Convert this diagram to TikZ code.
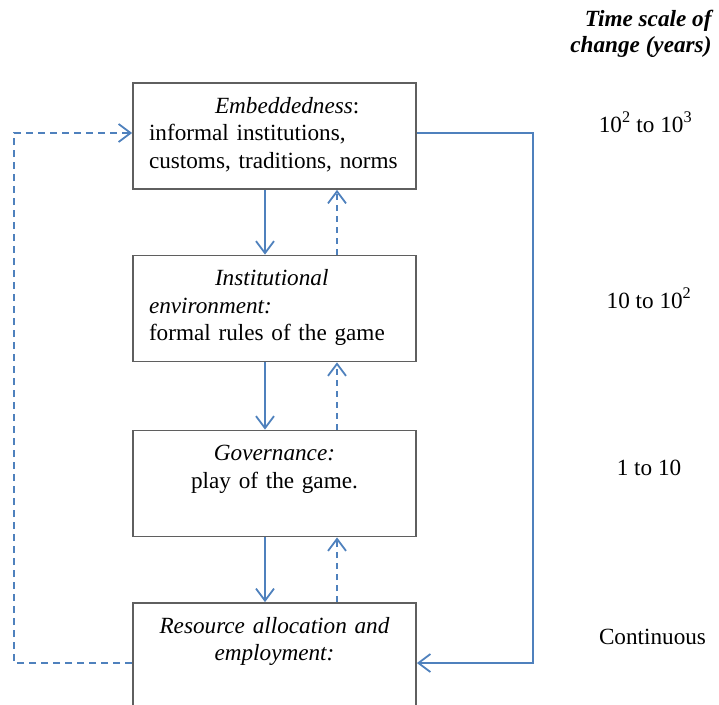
\documentclass[tikz,border=0pt]{standalone}
\usepackage{fontspec}
\setmainfont{Liberation Serif}
\usetikzlibrary{arrows.meta}

\definecolor{linkblue}{RGB}{79,129,189}
\definecolor{framegray}{RGB}{95,95,95}

\tikzset{
	bodyfont/.style={font=\fontsize{23.2}{27.5}\selectfont},
	tier/.style={bodyfont, draw=framegray, line width=1.8pt, minimum width=283pt,
		inner xsep=16pt, inner ysep=13pt, text width=251pt,
		text height=17pt, text depth=63pt},
	flow/.style={draw=linkblue, line width=1.8pt, -{Straight Barb[length=12pt,width=18pt]}},
	feedback/.style={flow, dash pattern=on 6pt off 5pt},
	timescale/.style={bodyfont, anchor=base},
}

\begin{document}
\begin{tikzpicture}[x=1pt, y=-1pt]
	\def\cx{274.5}
	\def\down{9.5}
	\def\up{62.5}

	\useasboundingbox (0,0) rectangle (719,704);
	\clip (0,0) rectangle (719,704);

	\node[tier, align=left] (embed) at (\cx,136)
		{\hspace*{66pt}\textit{Embeddedness}:\\informal institutions,\\customs, traditions, norms};
	\node[tier, align=left] (inst) at (\cx,308.5)
		{\hspace*{66pt}\textit{Institutional}\\\textit{environment:}\\formal rules of the game};
	\node[tier, align=center] (gov) at (\cx,483.5)
		{\textit{Governance:}\\play of the game.};
	\node[tier, align=center] (alloc) at (\cx,656)
		{\textit{Resource allocation and}\\\textit{employment:}};

	\node[anchor=base east, align=right, font=\fontsize{23.2}{26}\selectfont\bfseries\itshape]
		(head) at (715,52) {Time scale of\\change (years)};
	\node[timescale] (t1) at (645.5,132) {10\textsuperscript{2} to 10\textsuperscript{3}};
	\node[timescale] (t2) at (649,308) {10 to 10\textsuperscript{2}};
	\node[timescale] (t3) at (649,475) {1 to 10};
	\node[timescale] (t4) at (652.5,644) {Continuous};

	\draw[flow] ([xshift=-\down pt]embed.south) -- ([xshift=-\down pt]inst.north);
	\draw[flow] ([xshift=-\down pt]inst.south) -- ([xshift=-\down pt]gov.north);
	\draw[flow] ([xshift=-\down pt]gov.south) -- ([xshift=-\down pt]alloc.north);

	\draw[feedback] ([xshift=\up pt]inst.north) -- ([xshift=\up pt]embed.south);
	\draw[feedback] ([xshift=\up pt]gov.north) -- ([xshift=\up pt]inst.south);
	\draw[feedback] ([xshift=\up pt]alloc.north) -- ([xshift=\up pt]gov.south);

	\draw[feedback, dash pattern=on 7pt off 5pt] ([yshift=-7pt]alloc.west) -- ++(-118,0) |- ([yshift=3pt]embed.west);
	\draw[flow] ([yshift=3pt]embed.east) -- ++(116,0) |- ([yshift=-7pt]alloc.east);
\end{tikzpicture}
\end{document}
